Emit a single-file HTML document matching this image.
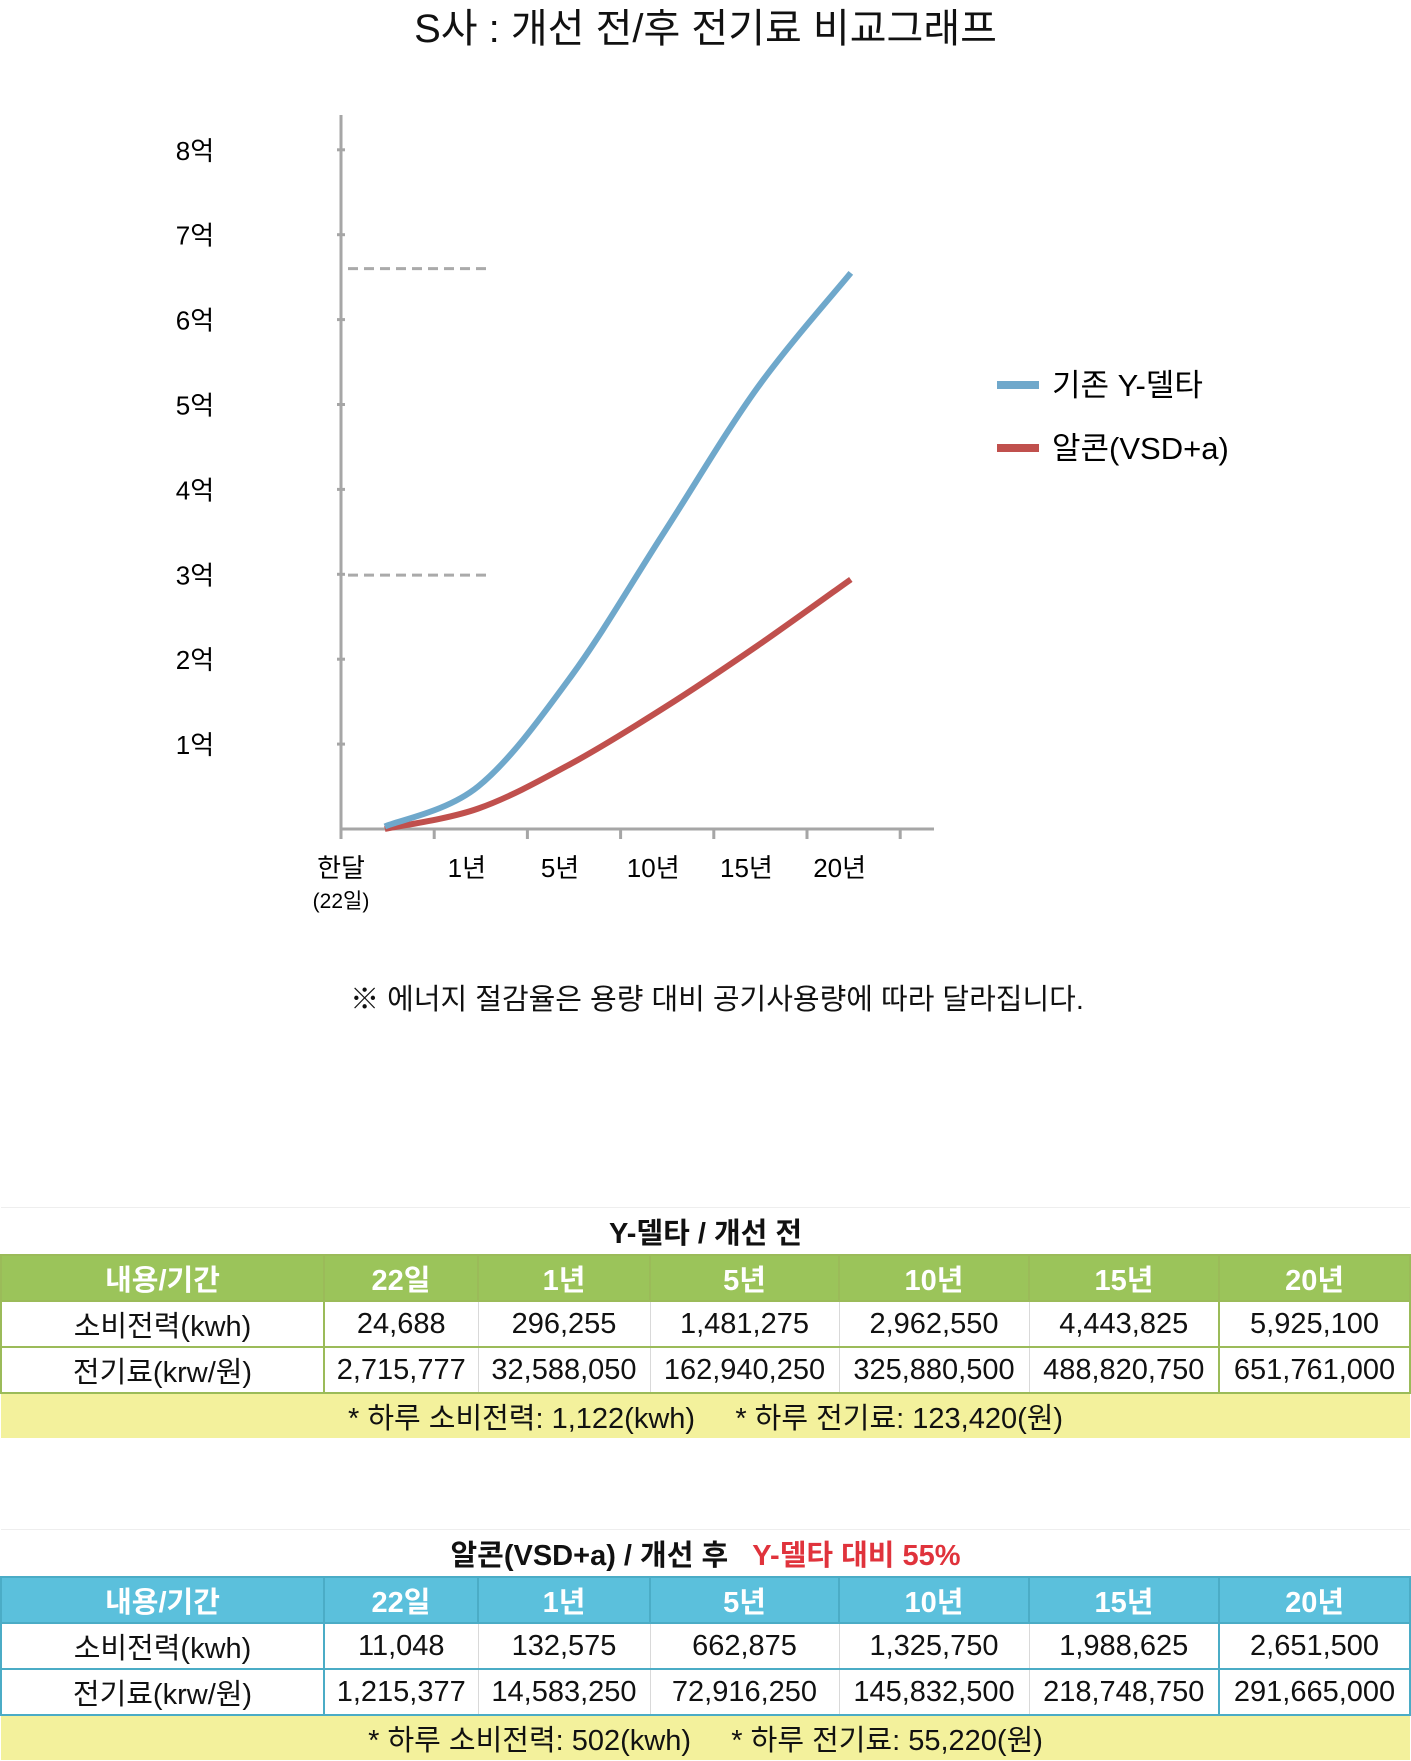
<!DOCTYPE html>
<html><head><meta charset="utf-8">
<style>
body{margin:0;width:1411px;height:1761px;background:#fff;position:relative;overflow:hidden;font-family:"Liberation Sans","Noto Sans CJK KR",sans-serif;color:#111}
.t{position:absolute;white-space:nowrap}
table{position:absolute;left:0;width:1409px;border-collapse:collapse;table-layout:fixed;font-size:29px}
td{height:44px;padding:0;text-align:center;white-space:nowrap;overflow:hidden}
.g td{border:2px solid #9bbb59}
.b td{border:2px solid #4bacc6}
td.in{border-left:1px solid #d9d9d9;border-right:1px solid #d9d9d9}
.hg td{background:#9bc45a;color:#fff;font-weight:bold}
.hb td{background:#5bc0dc;color:#fff;font-weight:bold}
.y td{background:#f3f19c;border-left:none;border-right:none}
.ttl td{border:none;font-weight:bold;height:46px;border-top:1px solid #eee}
</style></head><body>
<div class="t" style="left:0;width:1411px;text-align:center;top:-4px;font-size:40px">S사 : 개선 전/후 전기료 비교그래프</div>
<svg id="chart" width="1411" height="1000" style="position:absolute;left:0;top:0"></svg>
<div class="t" style="left:0;width:1434px;text-align:center;top:976px;font-size:29px">※ 에너지 절감율은 용량 대비 공기사용량에 따라 달라집니다.</div>

<table class="g" style="top:1207px">
<colgroup><col style="width:323px"><col style="width:154px"><col style="width:172px"><col style="width:189px"><col style="width:190px"><col style="width:190px"><col style="width:191px"></colgroup>
<tr class="ttl"><td colspan="7">Y-델타 / 개선 전</td></tr>
<tr class="hg"><td>내용/기간</td><td>22일</td><td>1년</td><td>5년</td><td>10년</td><td>15년</td><td>20년</td></tr>
<tr><td>소비전력(kwh)</td><td class="in">24,688</td><td class="in">296,255</td><td class="in">1,481,275</td><td class="in">2,962,550</td><td class="in">4,443,825</td><td>5,925,100</td></tr>
<tr><td>전기료(krw/원)</td><td class="in">2,715,777</td><td class="in">32,588,050</td><td class="in">162,940,250</td><td class="in">325,880,500</td><td class="in">488,820,750</td><td>651,761,000</td></tr>
<tr class="y"><td colspan="7" style="border-bottom:none">* 하루 소비전력: 1,122(kwh) &nbsp;&nbsp;&nbsp; * 하루 전기료: 123,420(원)</td></tr>
</table>

<table class="b" style="top:1529px">
<colgroup><col style="width:323px"><col style="width:154px"><col style="width:172px"><col style="width:189px"><col style="width:190px"><col style="width:190px"><col style="width:191px"></colgroup>
<tr class="ttl"><td colspan="7">알콘(VSD+a) / 개선 후 &nbsp;&nbsp;<span style="color:#e0333c">Y-델타 대비 55%</span></td></tr>
<tr class="hb"><td>내용/기간</td><td>22일</td><td>1년</td><td>5년</td><td>10년</td><td>15년</td><td>20년</td></tr>
<tr><td>소비전력(kwh)</td><td class="in">11,048</td><td class="in">132,575</td><td class="in">662,875</td><td class="in">1,325,750</td><td class="in">1,988,625</td><td>2,651,500</td></tr>
<tr><td>전기료(krw/원)</td><td class="in">1,215,377</td><td class="in">14,583,250</td><td class="in">72,916,250</td><td class="in">145,832,500</td><td class="in">218,748,750</td><td>291,665,000</td></tr>
<tr class="y"><td colspan="7" style="border-bottom:none">* 하루 소비전력: 502(kwh) &nbsp;&nbsp;&nbsp; * 하루 전기료: 55,220(원)</td></tr>
</table>

<script>
const categories=["한달","1년","5년","10년","15년","20년"];
const yTickLabels=["1억","2억","3억","4억","5억","6억","7억","8억"];
const yDeltaValues=[0.03,0.5,1.8,3.5,5.2,6.55];
const alconValues=[0.0,0.24,0.77,1.43,2.16,2.94];
const refLines=[6.6,2.99];
const NS="http://www.w3.org/2000/svg";
const svg=document.getElementById('chart');
const x0=341,yBase=829,tickW=93.2,unitH=84.9;
const xPos=i=>x0+(i+0.47)*tickW;
const yPos=v=>yBase-v*unitH;
function mk(tag,attrs){const e=document.createElementNS(NS,tag);for(const k in attrs)e.setAttribute(k,attrs[k]);svg.appendChild(e);return e;}
let e=mk('line',{x1:x0,y1:115,x2:x0,y2:yBase,stroke:'#a6a6a6','stroke-width':3});


e=mk('line',{x1:x0,y1:yBase,x2:934,y2:yBase,stroke:'#a6a6a6','stroke-width':3});


for(let i=0;i<=6;i++){e=mk('line',{x1:x0+i*tickW,y1:yBase,x2:x0+i*tickW,y2:yBase+10,stroke:'#a6a6a6','stroke-width':3});
}
yTickLabels.forEach((l,i)=>{const y=yPos(i+1);
e=mk('line',{x1:x0-4,y1:y,x2:x0+4,y2:y,stroke:'#a6a6a6','stroke-width':3});


e=mk('text',{x:195,y:y+10,'font-size':26,'text-anchor':'middle','font-family':'Liberation Sans, Noto Sans CJK KR, sans-serif'});e.textContent=l;

});
categories.forEach((c,i)=>{const x=i==0?x0:x0+(i+0.35)*tickW;
e=mk('text',{x:x,y:877,'font-size':26,'text-anchor':'middle','font-family':'Liberation Sans, Noto Sans CJK KR, sans-serif'});e.textContent=c;

});
e=mk('text',{x:x0,y:908,'font-size':21,'text-anchor':'middle','font-family':'Liberation Sans, Noto Sans CJK KR, sans-serif'});e.textContent='(22일)';


refLines.forEach(v=>{e=mk('line',{x1:348,y1:yPos(v),x2:488,y2:yPos(v),stroke:'#aaa','stroke-width':3,'stroke-dasharray':'10,6'});

});
function path(vals){const p=vals.map((v,i)=>[xPos(i),yPos(v)]);let d='M'+p[0][0]+','+p[0][1];
for(let i=0;i<p.length-1;i++){const a=p[Math.max(0,i-1)],b=p[i],c=p[i+1],n=p[Math.min(p.length-1,i+2)];
d+=` C${b[0]+(c[0]-a[0])/6},${b[1]+(c[1]-a[1])/6} ${c[0]-(n[0]-b[0])/6},${c[1]-(n[1]-b[1])/6} ${c[0]},${c[1]}`;}return d;}
e=mk('path',{d:path(alconValues),fill:'none',stroke:'#c0504d','stroke-width':6});


e=mk('path',{d:path(yDeltaValues),fill:'none',stroke:'#6fa8cb','stroke-width':6});


[['#6fa8cb','기존 Y-델타',385],['#c0504d','알콘(VSD+a)',448]].forEach(([c,t,y])=>{
const r=mk('rect',{x:997,y:y-4,width:42,height:8,fill:c});


const tx=mk('text',{x:1052,y:y+11,'font-size':31,'font-family':'Liberation Sans, Noto Sans CJK KR, sans-serif'});tx.textContent=t;

});
</script>
</body></html>
